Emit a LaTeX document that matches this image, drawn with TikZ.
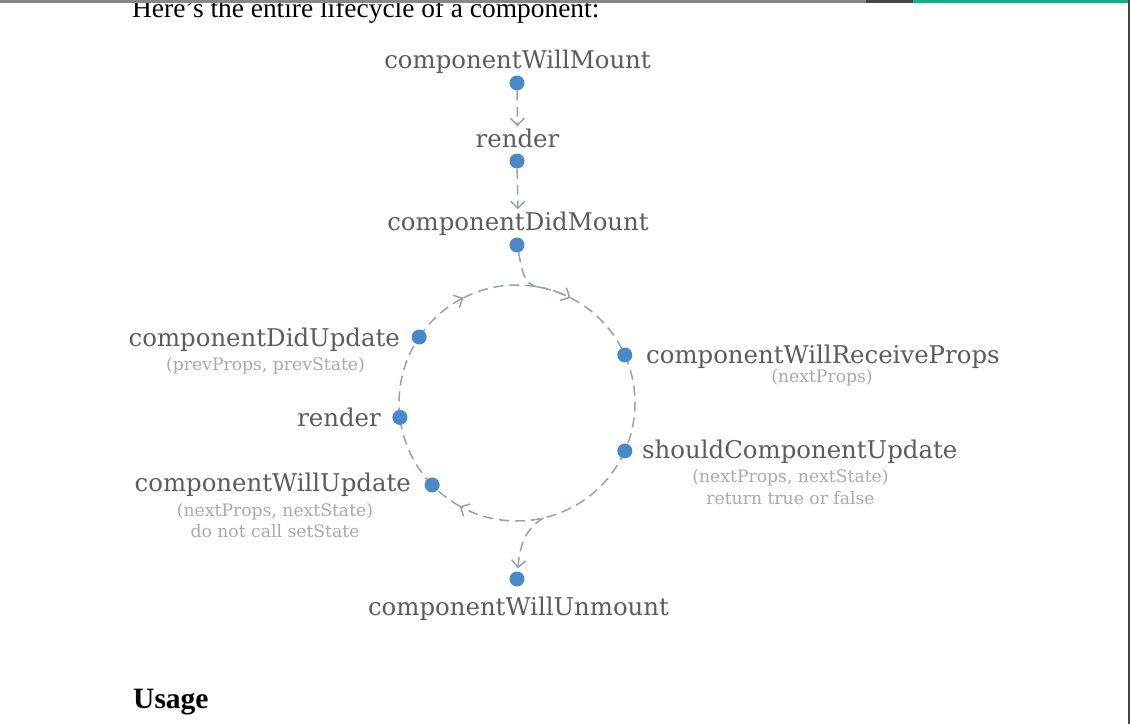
\documentclass[tikz,border=0pt]{standalone}
\usepackage{fontspec}
\setmainfont{Liberation Serif}
\newfontfamily\slab{DejaVu Serif}
\usetikzlibrary{arrows.meta,calc,backgrounds}
\definecolor{dotblue}{HTML}{4A89C8}
\definecolor{linegray}{HTML}{96A2AE}
\definecolor{labgray}{HTML}{5C5C5C}
\definecolor{subgray}{HTML}{AAAAAA}
\definecolor{barmid}{HTML}{888888}
\definecolor{bardark}{HTML}{454545}
\definecolor{barteal}{HTML}{1AAB8B}
\begin{document}
\begin{tikzpicture}[x=1pt,y=1pt,
  dot/.style={circle,fill=dotblue,inner sep=0pt,minimum size=15pt},
  lab/.style={font=\slab\fontsize{24.4}{28}\selectfont,text=labgray,inner sep=2pt},
  sublab/.style={font=\slab\fontsize{17.2}{20}\selectfont,text=subgray,inner sep=1pt},
  flow/.style={draw=linegray,line width=1.5pt,dash pattern=on 10pt off 6pt},
  tipend/.style={-{Straight Barb[length=7pt,width=14pt]}},
]
\useasboundingbox (0,0) rectangle (1130,724);

% page text
\node[anchor=base west,font=\fontsize{27.4}{30}\selectfont,inner sep=0pt] (hdr) at (132,706) {Here’s the entire lifecycle of a component:};
\node[anchor=base west,font=\bfseries\fontsize{29.5}{32}\selectfont,inner sep=0pt] (usage) at (133,15.5) {Usage};

% circle geometry
\coordinate (C) at (517,321);
\coordinate (jn) at ($(C)+(80:118)$);
\coordinate (br) at ($(C)+(-77:118)$);
\coordinate (a1) at ($(C)+(117:118)$);
\coordinate (a2) at ($(C)+(63:118)$);
\coordinate (a3) at ($(C)+(-119:118)$);

% dots
\node[dot] (dWM) at (517,641) {};
\node[dot] (dR1) at (517,563) {};
\node[dot] (dDM) at (517,479) {};
\node[dot] (dDU) at ($(C)+(146:118)$) {};
\node[dot] (dRP) at ($(C)+(24:118)$) {};
\node[dot] (dR2) at ($(C)+(187:118)$) {};
\node[dot] (dCU) at ($(C)+(-24:118)$) {};
\node[dot] (dWU) at ($(C)+(224:118)$) {};
\node[dot] (dUn) at (517,145) {};

% labels
\node[lab,anchor=base] (tWM) at (517.5,655) {componentWillMount};
\node[lab,anchor=base] (tR1) at (517.5,576) {render};
\node[lab,anchor=base] (tDM) at (518,493) {componentDidMount};
\node[lab,anchor=base east] (tDU) at (402,377) {componentDidUpdate};
\node[sublab,anchor=base] (sDU) at (265.5,353) {(prevProps, prevState)};
\node[lab,anchor=base east] (tR2) at (383,298) {render};
\node[lab,anchor=base east] (tWU) at (413,233) {componentWillUpdate};
\node[sublab,anchor=base] (sWU1) at (275,208) {(nextProps, nextState)};
\node[sublab,anchor=base] (sWU2) at (275,186.5) {do not call setState};
\node[lab,anchor=base west] (tRP) at (644,360) {componentWillReceiveProps};
\node[sublab,anchor=base] (sRP) at (822,341.5) {(nextProps)};
\node[lab,anchor=base west] (tCU) at (640,266) {shouldComponentUpdate};
\node[sublab,anchor=base] (sCU1) at (790.5,241.5) {(nextProps, nextState)};
\node[sublab,anchor=base] (sCU2) at (790.5,220) {return true or false};
\node[lab,anchor=base] (tUn) at (518.5,108.5) {componentWillUnmount};

% connectors
\begin{scope}[on background layer]
\fill[white] (0,0) rectangle (1130,724);
\draw[flow,tipend,shorten >=1pt] (dWM) -- (tR1.north);
\draw[flow,tipend,shorten >=1pt] (dR1) -- (tDM.north);
\draw[flow] (dDM) to[out=-78,in=170] (jn);
\draw[flow,tipend] (dDU.center) arc[start angle=146,end angle=117,radius=118];
\draw[flow] (a1) arc[start angle=117,end angle=63,radius=118];
\draw[flow,tipend] (jn) arc[start angle=80,end angle=63,radius=118];
\draw[flow] (a2) arc[start angle=63,end angle=24,radius=118];
\draw[flow] (dRP.center) arc[start angle=24,end angle=-24,radius=118];
\draw[flow,tipend] (dCU.center) arc[start angle=-24,end angle=-119,radius=118];
\draw[flow] (a3) arc[start angle=-119,end angle=-136,radius=118];
\draw[flow] (dWU.center) arc[start angle=224,end angle=187,radius=118];
\draw[flow] (dR2.center) arc[start angle=187,end angle=146,radius=118];
\draw[flow,tipend,shorten >=3pt] (br) to[out=-150,in=85] (dUn);
\end{scope}

% window chrome
\fill[barmid] (0,721) rectangle (866,724);
\fill[bardark] (866,721) rectangle (913,724);
\fill[barteal] (913,721) rectangle (1130,724);
\fill[bardark] (1128.2,0) rectangle (1130,724);
\end{tikzpicture}
\end{document}
